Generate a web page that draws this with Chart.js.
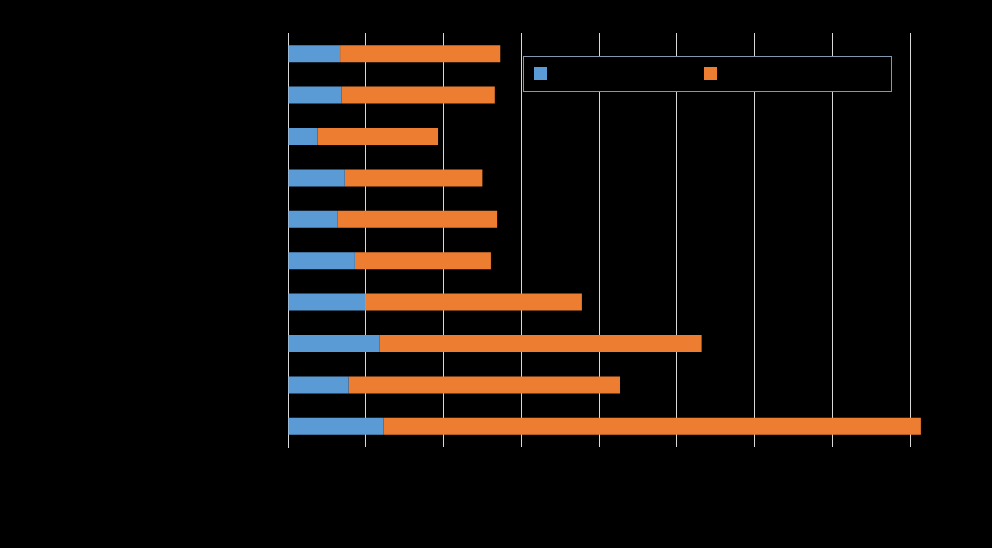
<!DOCTYPE html>
<html>
<head>
<meta charset="utf-8">
<script src="https://cdn.jsdelivr.net/npm/chart.js@4"></script>
<style>
  html, body { margin: 0; padding: 0; background: #000; }
  canvas { display: block; }
</style>
</head>
<body>
<canvas id="chart" width="992" height="548"></canvas>
<script>
// values (labels/legend text are black on black in the original)
const categories = ['Category 1', 'Category 2', 'Category 3', 'Category 4', 'Category 5',
                    'Category 6', 'Category 7', 'Category 8', 'Category 9', 'Category 10'];
const seriesNames = ['Series 1', 'Series 2'];
const series1 = [67, 69, 38, 73, 64, 86, 100, 118, 78, 123];
const series2 = [206, 197, 155, 177, 205, 175, 278, 414, 349, 691];
const xTicks = [0, 100, 200, 300, 400, 500, 600, 700, 800];

const blue = '#5B9BD5';
const orange = '#ED7D31';

// boxed legend like the original, drawn on top of the plot
const boxLegend = {
    id: 'boxLegend',
    afterDraw(chart) {
        const ctx = chart.ctx;
        ctx.save();
        ctx.strokeStyle = '#8496B0';
        ctx.lineWidth = 1;
        ctx.fillStyle = '#000';
        ctx.fillRect(523.5, 56.5, 368, 35);
        ctx.strokeRect(523.5, 56.5, 368, 35);
        const xs = [534, 704];
        chart.data.datasets.forEach((ds, i) => {
            ctx.fillStyle = ds.backgroundColor;
            ctx.fillRect(xs[i], 67, 13, 13);
            ctx.fillStyle = '#000';
            ctx.font = '13px "Liberation Sans", Arial, sans-serif';
            ctx.textBaseline = 'middle';
            ctx.fillText(ds.label, xs[i] + 18, 74);
        });
        ctx.restore();
    }
};

new Chart(document.getElementById('chart'), {
    type: 'bar',
    data: {
        labels: categories,
        datasets: [
            { label: seriesNames[0], data: series1, backgroundColor: blue, clip: false },
            { label: seriesNames[1], data: series2, backgroundColor: orange, clip: false }
        ]
    },
    options: {
        indexAxis: 'y',
        responsive: false,
        animation: false,
        layout: { padding: { top: 33, right: 82, left: 0, bottom: 0 } },
        plugins: {
            legend: { display: false },
            tooltip: { enabled: false }
        },
        datasets: { bar: { categoryPercentage: 1, barPercentage: 0.41 } },
        scales: {
            x: {
                stacked: true,
                min: 0,
                max: 800,
                afterBuildTicks: (s) => { s.ticks = xTicks.map(v => ({ value: v })); },
                afterFit: (s) => { s.height = 101; },
                grid: { color: '#D9D9D9', drawTicks: false },
                border: { display: false },
                ticks: { color: '#000', font: { size: 12 } }
            },
            y: {
                stacked: true,
                afterFit: (s) => { s.width = 288; },
                grid: { display: false },
                border: { display: true, color: '#D9D9D9' },
                ticks: { color: '#000', font: { size: 12 } }
            }
        }
    },
    plugins: [boxLegend]
});
</script>
</body>
</html>
